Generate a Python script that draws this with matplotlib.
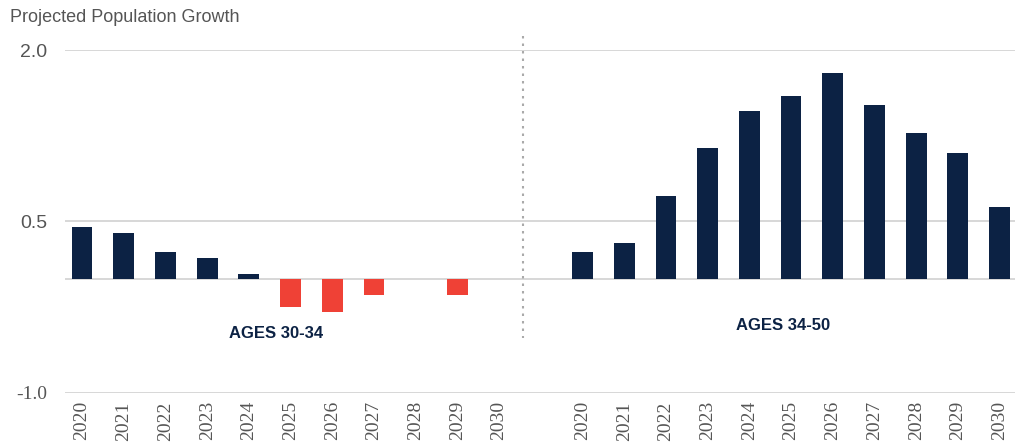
import matplotlib
matplotlib.use('Agg')
import matplotlib.pyplot as plt
import numpy as np

years = ['2020', '2021', '2022', '2023', '2024', '2025',
         '2026', '2027', '2028', '2029', '2030']
growth_30_34 = [0.45, 0.40, 0.23, 0.18, 0.04, -0.25, -0.29, -0.14, 0.0, -0.14, 0.0]
growth_34_50 = [0.23, 0.31, 0.72, 1.14, 1.47, 1.60, 1.80, 1.52, 1.27, 1.10, 0.63]
group_labels = ['AGES 30-34', 'AGES 34-50']
y_ticks = [-1.0, 0.5, 2.0]

NAVY = '#0c2244'
RED = '#ef4136'
GRID = '#d4d4d4'
TEXT = '#555555'
SANS = 'Liberation Sans'

plt.rcParams['font.serif'] = ['Liberation Serif', 'Times New Roman', 'DejaVu Serif']

fig = plt.figure(figsize=(10.15, 4.47), dpi=100)
ax = fig.add_axes([0.064, 0.121, 0.936, 0.767])

x_left = np.arange(len(years))
x_right = x_left + len(years) + 1

colors_left = [NAVY if v >= 0 else RED for v in growth_30_34]
ax.bar(x_left, growth_30_34, width=0.5, color=colors_left, zorder=3)
ax.bar(x_right, growth_34_50, width=0.5, color=NAVY, zorder=3)

# grid lines at the labelled values plus zero
for v in y_ticks + [0.0]:
    ax.axhline(v, color=GRID, lw=1.3, zorder=1)

# dotted divider between the two age groups
ax.plot([10.57, 10.57], [2.12, -0.52], ls=(0, (1.2, 2.4)), color='#aaaaaa',
        lw=1.5, clip_on=False, zorder=2)

ax.set_xlim(-0.41, 22.37)
ax.set_ylim(-1.0, 2.0)

ax.set_xticks(np.concatenate([x_left, x_right]))
ax.set_xticklabels(years + years, rotation=90, family='serif',
                   fontsize=14, color=TEXT)
ax.tick_params(axis='x', length=0, pad=6)

ax.set_yticks(y_ticks)
ax.set_yticklabels(['-1.0', '0.5', '2.0'], fontsize=14, color=TEXT,
                   family=SANS)
ax.get_yticklabels()[0].set_family('serif')
ax.tick_params(axis='y', length=0, pad=13)

for s in ax.spines.values():
    s.set_visible(False)

ax.text(4.65, -0.48, group_labels[0], ha='center', va='center', fontsize=12,
        fontweight='bold', color=NAVY, family=SANS)
ax.text(16.8, -0.41, group_labels[1], ha='center', va='center', fontsize=12,
        fontweight='bold', color=NAVY, family=SANS)

fig.text(0.01, 0.96, 'Projected Population Growth', ha='left', va='center',
         fontsize=13, color=TEXT, family=SANS)

fig.savefig('out.png', dpi=100)
